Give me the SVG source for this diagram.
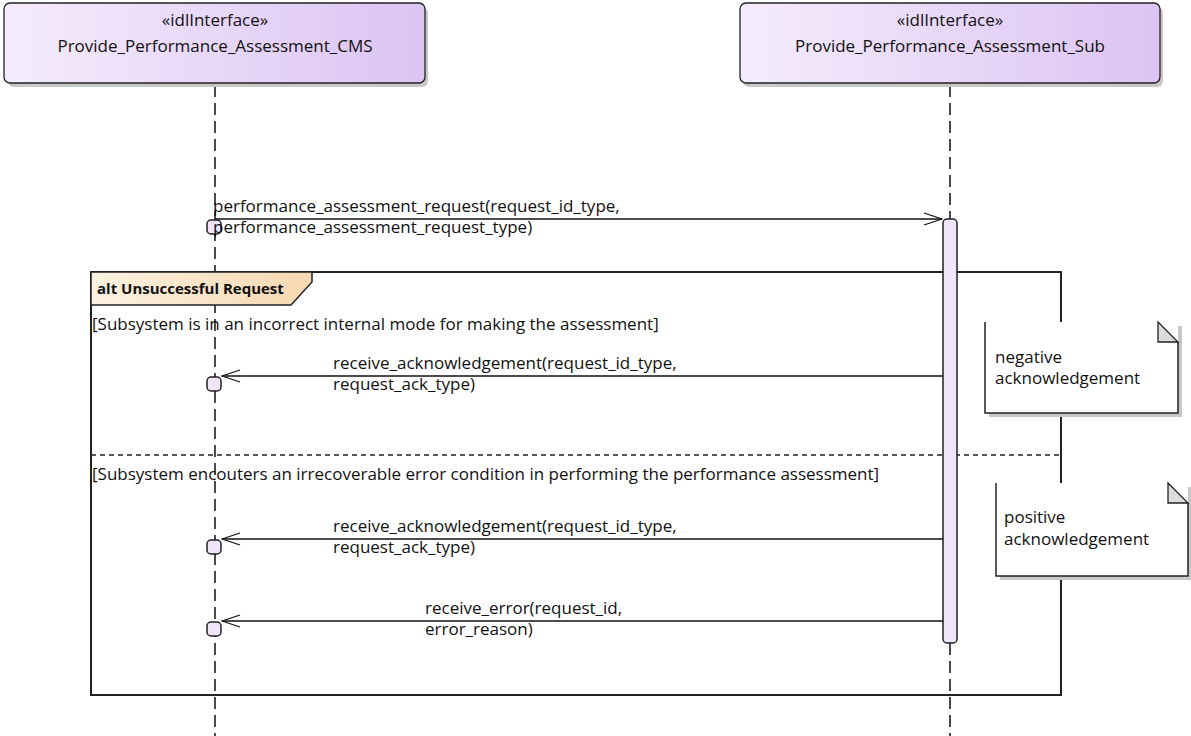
<svg xmlns="http://www.w3.org/2000/svg" width="1191" height="736" viewBox="0 0 1191 736">
<style>
text{font-family:"Open Sans","Noto Sans","DejaVu Sans",sans-serif;font-size:17px;fill:#111}
.b{font-weight:bold;font-size:15px}
.life{stroke:#111;stroke-width:1.5;stroke-dasharray:12,6;fill:none}
.msg{stroke:#111;stroke-width:1.3;fill:none}
.frame{stroke:#222;stroke-width:2;fill:none}
.sep{stroke:#222;stroke-width:1.3;stroke-dasharray:5,4;fill:none}
.head{stroke:#222;stroke-width:1.3;fill:url(#gh)}
.shadow{fill:#c8c8c8}
.box{fill:#f0e4fb;stroke:#222;stroke-width:1.5}
.note{fill:#fff;stroke:none}
.nb{stroke:#222;stroke-width:1.5;fill:none}
.fold{fill:#dcdcdc;stroke:#222;stroke-width:1.3}
</style>
<defs>
<linearGradient id="gh" x1="0" y1="0" x2="1" y2="0">
<stop offset="0" stop-color="#f4ecfc"/>
<stop offset="1" stop-color="#dcc3f3"/>
</linearGradient>
<linearGradient id="gl" x1="0" y1="0" x2="1" y2="0">
<stop offset="0" stop-color="#fcf1e2"/>
<stop offset="1" stop-color="#f5d8b0"/>
</linearGradient>
<marker id="open" viewBox="0 0 20 14" refX="19" refY="7" markerWidth="20" markerHeight="14" markerUnits="userSpaceOnUse" orient="auto">
<path d="M1,1 L19,7 L1,13" fill="none" stroke="#111" stroke-width="1.3"/>
</marker>
</defs>

<g id="lifelines">
<line class="life" x1="215" y1="85" x2="215" y2="736"/>
<line class="life" x1="950" y1="85" x2="950" y2="219"/>
<line class="life" x1="950" y1="643" x2="950" y2="736"/>
</g>

<g id="head-cms">
<rect class="shadow" x="8" y="7" width="420" height="80" rx="6"/>
<rect class="head" x="4" y="3" width="421" height="80" rx="6"/>
<text x="215" y="26" text-anchor="middle">«idlInterface»</text>
<text x="215" y="52" text-anchor="middle">Provide_Performance_Assessment_CMS</text>
</g>

<g id="head-sub">
<rect class="shadow" x="743" y="7" width="420" height="80" rx="6"/>
<rect class="head" x="740" y="3" width="420" height="80" rx="6"/>
<text x="950" y="26" text-anchor="middle">«idlInterface»</text>
<text x="950" y="52" text-anchor="middle">Provide_Performance_Assessment_Sub</text>
</g>

<g id="frame-alt">
<rect class="frame" x="91" y="272" width="970" height="423"/>
<path d="M91,272 L312,272 L312,282 L291,305 L91,305 Z" fill="url(#gl)" stroke="#222" stroke-width="1.5"/>
<text class="b" x="97" y="294">alt Unsuccessful Request</text>
<line class="sep" x1="91" y1="455" x2="1061" y2="455"/>
<text x="92" y="330">[Subsystem is in an incorrect internal mode for making the assessment]</text>
<text x="92" y="480">[Subsystem encouters an irrecoverable error condition in performing the performance assessment]</text>
</g>

<g id="activation-sub">
<rect class="box" x="943" y="219" width="14" height="424" rx="4"/>
</g>

<g id="connectors">
<line class="msg" x1="215" y1="219" x2="942" y2="219" marker-end="url(#open)"/>
<rect class="box" x="207" y="220" width="14" height="14" rx="4"/>
<text x="213" y="212">performance_assessment_request(request_id_type,</text>
<text x="213" y="233">performance_assessment_request_type)</text>

<line class="msg" x1="943" y1="376" x2="222" y2="376" marker-end="url(#open)"/>
<rect class="box" x="207" y="377" width="14" height="14" rx="4"/>
<text x="333" y="369">receive_acknowledgement(request_id_type,</text>
<text x="333" y="390">request_ack_type)</text>

<line class="msg" x1="943" y1="539" x2="222" y2="539" marker-end="url(#open)"/>
<rect class="box" x="207" y="540" width="14" height="14" rx="4"/>
<text x="333" y="532">receive_acknowledgement(request_id_type,</text>
<text x="333" y="553">request_ack_type)</text>

<line class="msg" x1="943" y1="621" x2="222" y2="621" marker-end="url(#open)"/>
<rect class="box" x="207" y="622" width="14" height="14" rx="4"/>
<text x="425" y="614">receive_error(request_id,</text>
<text x="425" y="635">error_reason)</text>
</g>

<g id="note-negative">
<rect class="shadow" x="989" y="326" width="193" height="91"/>
<rect class="note" x="985" y="322" width="193" height="91"/>
<path class="nb" d="M985,322 L985,413 L1178,413 L1178,342"/>
<path class="fold" d="M1158,322 L1178,342 L1158,342 Z"/>
<text x="995" y="363">negative</text>
<text x="995" y="384">acknowledgement</text>
</g>

<g id="note-positive">
<rect class="shadow" x="1000" y="487" width="192" height="93"/>
<rect class="note" x="996" y="483" width="192" height="93"/>
<path class="nb" d="M996,483 L996,576 L1188,576 L1188,503"/>
<path class="fold" d="M1168,483 L1188,503 L1168,503 Z"/>
<text x="1004" y="523">positive</text>
<text x="1004" y="545">acknowledgement</text>
</g>
</svg>
